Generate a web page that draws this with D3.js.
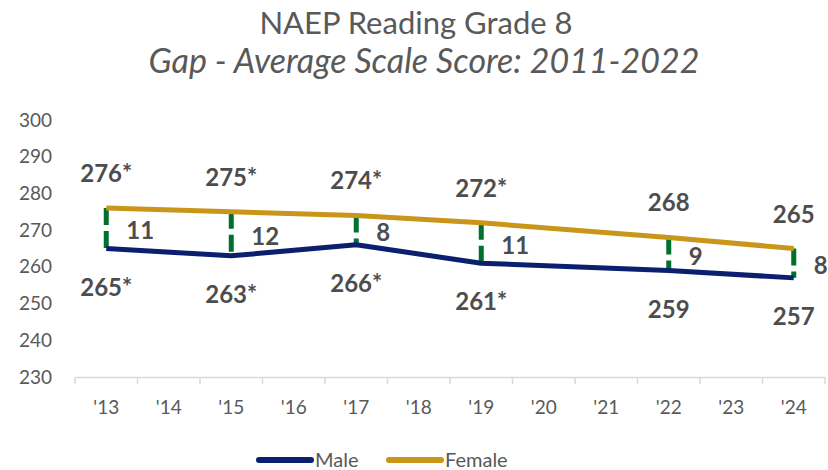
<!DOCTYPE html>
<html>
<head>
<meta charset="utf-8">
<script src="https://cdn.jsdelivr.net/npm/d3@7"></script>
<style>
  body { margin: 0; background: #fff; }
  svg { display: block; font-family: Lato, "Open Sans", sans-serif; }
</style>
</head>
<body>
<svg id="chart" width="828" height="470"></svg>
<script>
const years = ["'13", "'14", "'15", "'16", "'17", "'18", "'19", "'20", "'21", "'22", "'23", "'24"];
const testYears = ["'13", "'15", "'17", "'19", "'22", "'24"];
const maleScores = [265, 263, 266, 261, 259, 257];
const femaleScores = [276, 275, 274, 272, 268, 265];
const maleLabels = ["265*", "263*", "266*", "261*", "259", "257"];
const femaleLabels = ["276*", "275*", "274*", "272*", "268", "265"];
const gaps = [11, 12, 8, 11, 9, 8];
const yTicks = [230, 240, 250, 260, 270, 280, 290, 300];

const svg = d3.select("#chart");
const textGray = "#595959";
const labelGray = "#4d4d4d";
const maleColor = "#0b1f6f";
const femaleColor = "#c9961a";
const gapColor = "#00702f";

const x = d3.scaleBand().domain(years).range([75, 825]).padding(0);
const cx = (d) => x(d) + x.bandwidth() / 2;
const y = d3.scaleLinear().domain([230, 300]).range([377, 120]);

// titles
svg.append("text")
  .attr("x", 416).attr("y", 34)
  .attr("text-anchor", "middle")
  .attr("font-size", 31)
  .attr("fill", textGray)
  .text("NAEP Reading Grade 8");

svg.append("text")
  .attr("x", 424).attr("y", 73)
  .attr("text-anchor", "middle")
  .attr("font-size", 34)
  .attr("font-style", "italic")
  .attr("fill", textGray)
  .text("Gap - Average Scale Score: 2011-2022");

// y axis (labels only)
const yAxis = svg.append("g")
  .attr("transform", "translate(56,0)")
  .call(d3.axisLeft(y).tickValues(yTicks).tickSize(0).tickPadding(4));
yAxis.select(".domain").remove();
yAxis.selectAll("text")
  .attr("font-size", 19)
  .attr("font-family", "Lato, sans-serif")
  .attr("fill", textGray);

// x axis
const xAxis = svg.append("g")
  .attr("transform", "translate(0,377)")
  .call(d3.axisBottom(x).tickSize(0).tickPadding(24));
xAxis.select(".domain").attr("stroke", "#d9d9d9").attr("stroke-width", 1.5);
xAxis.selectAll("text")
  .attr("font-size", 19)
  .attr("font-family", "Lato, sans-serif")
  .attr("fill", textGray);

// tick marks at category boundaries
const bounds = years.map((d) => x(d)).concat([x(years[years.length - 1]) + x.bandwidth()]);
svg.append("g")
  .selectAll("line")
  .data(bounds)
  .join("line")
  .attr("x1", (d) => d).attr("x2", (d) => d)
  .attr("y1", 377).attr("y2", 384)
  .attr("stroke", "#d9d9d9")
  .attr("stroke-width", 1.5);

// gap lines
svg.append("g")
  .selectAll("line")
  .data(testYears)
  .join("line")
  .attr("x1", (d) => cx(d)).attr("x2", (d) => cx(d))
  .attr("y1", (d, i) => y(femaleScores[i]))
  .attr("y2", (d, i) => y(maleScores[i]))
  .attr("stroke", gapColor)
  .attr("stroke-width", 5)
  .attr("stroke-dasharray", "17,6");

// series lines
const line = d3.line().x((d) => cx(d[0])).y((d) => y(d[1]));

svg.append("path")
  .datum(testYears.map((d, i) => [d, maleScores[i]]))
  .attr("fill", "none")
  .attr("stroke", maleColor)
  .attr("stroke-width", 5)
  .attr("stroke-linejoin", "round")
  .attr("d", line);

svg.append("path")
  .datum(testYears.map((d, i) => [d, femaleScores[i]]))
  .attr("fill", "none")
  .attr("stroke", femaleColor)
  .attr("stroke-width", 5)
  .attr("stroke-linejoin", "round")
  .attr("d", line);

// data labels
const labels = svg.append("g")
  .attr("font-size", 24)
  .attr("font-weight", "bold")
  .attr("fill", labelGray);

labels.selectAll(".female")
  .data(testYears)
  .join("text")
  .attr("class", "female")
  .attr("x", (d) => cx(d))
  .attr("y", (d, i) => y(femaleScores[i]) - 26)
  .attr("text-anchor", "middle")
  .text((d, i) => femaleLabels[i]);

labels.selectAll(".male")
  .data(testYears)
  .join("text")
  .attr("class", "male")
  .attr("x", (d) => cx(d))
  .attr("y", (d, i) => y(maleScores[i]) + 47)
  .attr("text-anchor", "middle")
  .text((d, i) => maleLabels[i]);

labels.selectAll(".gap")
  .data(testYears)
  .join("text")
  .attr("class", "gap")
  .attr("x", (d) => cx(d) + 20)
  .attr("y", (d, i) => (y(femaleScores[i]) + y(maleScores[i])) / 2 + 11)
  .text((d, i) => gaps[i]);

// legend
const legend = svg.append("g").attr("font-size", 20).attr("fill", textGray);
const legendItems = [
  { name: "Male", color: maleColor, x: 259 },
  { name: "Female", color: femaleColor, x: 389 }
];
legendItems.forEach((item) => {
  legend.append("line")
    .attr("x1", item.x).attr("x2", item.x + 52)
    .attr("y1", 460).attr("y2", 460)
    .attr("stroke", item.color)
    .attr("stroke-width", 6)
    .attr("stroke-linecap", "round");
  legend.append("text")
    .attr("x", item.x + 56).attr("y", 467)
    .text(item.name);
});
</script>
</body>
</html>
